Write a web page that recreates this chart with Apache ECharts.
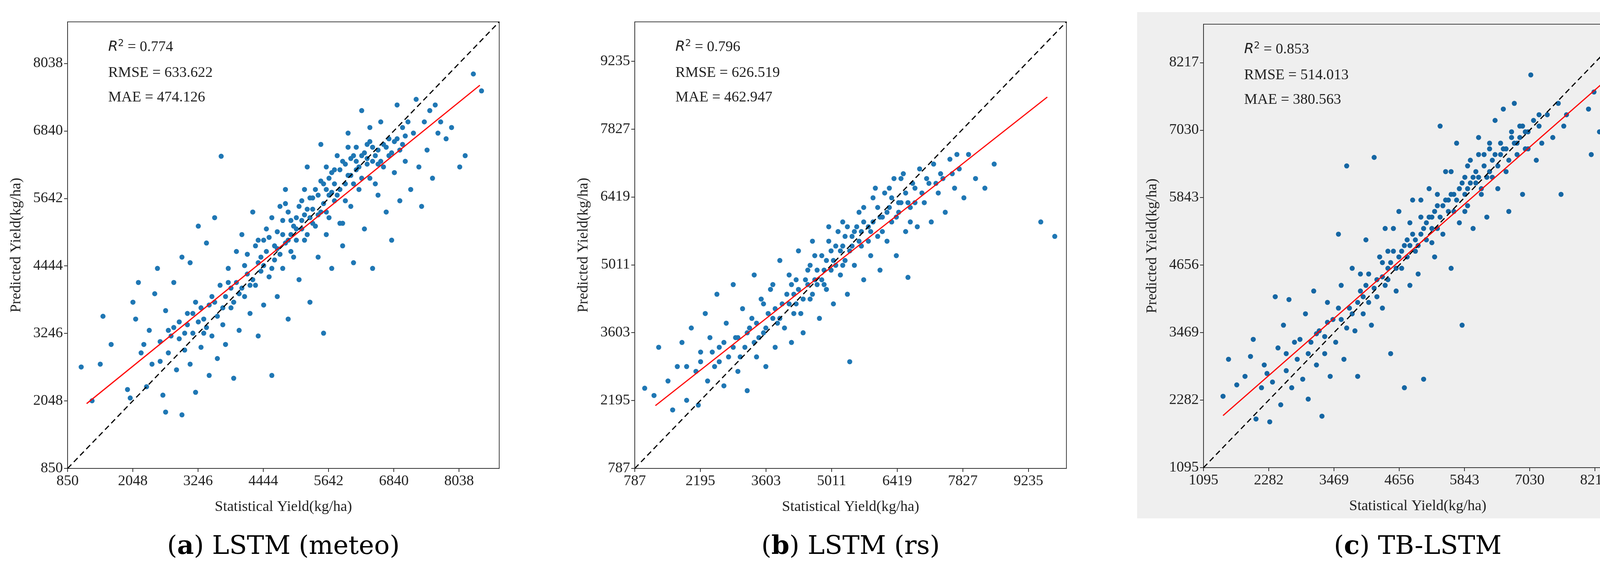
<!DOCTYPE html>
<html><head><meta charset="utf-8">
<script src="https://cdn.jsdelivr.net/npm/echarts@6/dist/echarts.min.js"></script>
<style>html,body{margin:0;padding:0;background:#fff;overflow:hidden}#c{width:4231px;height:1450px}</style>
</head><body><div id="c"></div>
<script>
// Axis settings (min, interval, max)
const axisA = {min: 850, interval: 1198, max: 8775};
const axisB = {min: 787, interval: 1408, max: 10050};
const axisC = {min: 1095, interval: 1187, max: 8892};
const captions = ['LSTM (meteo)', 'LSTM (rs)', 'TB-LSTM'];
const letters = ['a', 'b', 'c'];
const stats = [['0.774','633.622','474.126'],['0.796','626.519','462.947'],['0.853','514.013','380.563']];
// Regression lines (start, end)
const fitA = [[1200, 2000], [8420, 7650]];
const fitB = [[1230, 2090], [9640, 8490]];
const fitC = [[1450, 2010], [8540, 8010]];
// Scatter points (statistical, predicted)
const pointsA = [
[1100,2650],[1300,2050],[1450,2700],[1500,3550],[1650,3050],[1950,2250],[2000,2100],[2100,3500],[2050,3800],[2150,4150],[2200,2900],[2300,2300],[2350,3300],[2400,2700],[2450,3950],[2500,4400],[2550,3100],[2600,2150],[2650,1850],[2650,3650],[2700,2900],[2750,3200],[2800,4150],[2850,2600],[2900,3450],[2950,1800],[2950,4600],[3000,2950],[3050,3600],[3100,4500],[3100,2700],[3150,3250],[3200,3800],[3200,2200],[3250,5150],[3300,3000],[3350,3500],[3400,4850],[3450,2500],[3500,3900],[3500,3200],[3550,5300],[3600,2800],[3650,4100],[3670,6390],[3700,3400],[3750,3050],[3800,4400],[3850,3700],[3900,2450],[3950,4700],[4000,3300],[4050,5000],[4100,3900],[4150,4300],[4200,3600],[4250,5400],[4300,4100],[4350,3200],[4400,4600],[4450,3750],[4500,5100],[4550,4250],[4600,2500],[4650,4800],[4700,3900],[4750,5500],[4800,4400],[4850,5800],[4900,3500],[4950,5000],[5000,4600],[5050,5300],[5100,4200],[5150,5600],[5200,4900],[5250,6200],[5300,3800],[5350,5200],[5400,5800],[5450,4600],[5500,6600],[5500,5400],[5550,3250],[5600,5000],[5650,6000],[5700,4400],[5750,5600],[5800,6400],[5850,5200],[5900,4800],[5950,5900],[6000,6800],[6050,5500],[6100,4500],[6150,6300],[6200,5800],[6250,7200],[6300,5100],[6350,6600],[6400,6000],[6450,4400],[6500,6400],[6550,5700],[6600,7000],[6650,6200],[6700,5400],[6750,6700],[6800,4900],[6850,6100],[6900,7300],[6950,5600],[7000,6600],[7050,6300],[7100,7000],[7150,5800],[7200,6800],[7250,7400],[7300,6200],[7350,5500],[7400,7000],[7450,6500],[7500,7200],[7550,6000],[7600,7300],[7650,6800],[7700,7000],[7800,6700],[7900,6900],[8050,6200],[8150,6400],[8300,7850],[8450,7550],
[2250,3050],[2550,2750],[2800,3350],[3000,3250],[3150,3600],[3350,3250],[3450,3750],[3600,3550],[3750,3900],[3900,3800],[3950,4150],[4050,4050],[4150,4650],[4250,4200],[4300,4800],[4400,4350],[4500,4700],[4550,4950],[4600,4400],[4700,5050],[4750,4650],[4800,5250],[4850,4850],[4900,5400],[4950,4700],[5000,5150],[5050,4900],[5100,5500],[5150,5100],[5200,5350],[5250,5000],[5300,5650],[5350,5450],[5400,5150],[5450,5700],[5500,5950],[5550,5550],[5600,5800],[5650,5300],[5700,6100],[5750,5900],[5800,5700],[5850,6150],[5900,6300],[5950,5600],[6000,6050],[6050,6350],[6100,5900],[6150,6550],[6200,6200],[6250,6000],[6300,6450],[6350,6250],[6400,6650],[6450,6300],[6500,5900],[6550,6500],[6600,6300],[6700,6550],[6800,6450],[6900,6700],[7000,6900],[5200,5800],[5600,6200],[5900,5200],[4600,5300],[4350,4900],[4850,5550],
[2900,3150],[3050,3400],[3250,3450],[3400,3350],[3550,3800],[3700,3700],[3850,4050],[4000,3950],[4100,4450],[4200,4100],[4350,4500],[4450,4450],[4650,4550],[4700,4750],[4800,5000],[4900,4900],[5050,5100],[5150,5250],[5250,5450],[5350,5650],[5450,5350],[5550,5900],[5650,5700],[5750,6150],[5850,5800],[5950,6250],[6050,6050],[6150,6150],[6250,6400],[6350,6350],[6450,6550],[6550,6250],[6650,6600],[6750,6400],[6850,6650],[6950,6500],[7050,6750],[5300,5300],[5700,5750],[6100,6400],[4950,5250],[4450,4900],[3800,4150],[3300,3700],[2700,3300],[6400,6900],[6000,6550],[5600,5400]
];
const pointsB = [
[1000,2450],[1200,2300],[1300,3300],[1500,2600],[1600,2000],[1700,2900],[1800,3400],[1900,2200],[2000,3700],[2100,2800],[2150,2100],[2200,3200],[2300,4000],[2350,2600],[2400,3500],[2500,2900],[2550,4400],[2600,3300],[2700,2500],[2750,3800],[2800,3100],[2900,4600],[2950,3500],[3000,2800],[3100,4100],[3150,3300],[3200,2400],[3300,3900],[3350,4800],[3400,3100],[3500,4300],[3550,3600],[3600,2900],[3700,4500],[3750,3900],[3800,3300],[3900,5100],[3950,4200],[4000,3700],[4100,4800],[4150,3400],[4200,4400],[4300,5300],[4350,4000],[4400,3600],[4500,4900],[4550,4300],[4600,5500],[4700,4600],[4750,3900],[4800,5200],[4900,4500],[4950,5800],[5000,4900],[5050,4200],[5100,5400],[5200,4800],[5250,5900],[5300,5100],[5350,4400],[5400,3000],[5450,5600],[5500,5000],[5600,6100],[5650,5400],[5700,4700],[5800,5800],[5850,5200],[5900,6400],[6000,5600],[6050,4900],[6100,6000],[6200,5500],[6250,6600],[6300,5900],[6400,5200],[6450,6300],[6500,6800],[6600,5700],[6650,4750],[6700,6200],[6800,6600],[6850,5800],[6900,7000],[7000,6300],[7100,6700],[7150,5900],[7200,7100],[7300,6500],[7400,6800],[7450,6100],[7550,7200],[7650,6600],[7750,7000],[7850,6400],[7950,7300],[8100,6800],[8300,6600],[8500,7100],[9500,5900],[9800,5600],
[2600,3000],[2900,3300],[3200,3600],[3400,3800],[3600,3700],[3800,4100],[3900,3900],[4100,4200],[4200,4000],[4300,4500],[4400,4300],[4500,4600],[4600,4400],[4700,4900],[4800,4700],[4900,5100],[5000,5300],[5100,5000],[5200,5300],[5300,5600],[5400,5300],[5500,5700],[5600,5500],[5700,5900],[5800,5500],[5900,5900],[6000,6200],[6100,5700],[6200,6100],[6300,6400],[6400,6000],[6500,6300],[6600,6500],[6700,5900],[6800,6300],[5550,5800],[5150,5700],[4650,5200],[4250,4700],[3750,4600],[5950,6600],[6350,6800],
[1900,2900],[2200,3000],[2450,3200],[2700,3400],[3000,3500],[3050,3100],[3250,3700],[3450,3500],[3650,4000],[3850,3800],[4050,4400],[4250,4200],[4450,4700],[4650,4700],[4850,4900],[5050,5100],[5250,5400],[5450,5400],[5650,5700],[5850,5700],[6050,6000],[6250,6200],[6450,6100],[6650,6300],[6750,6700],[6950,6500],[7050,6800],[7250,6700],[7350,6900],[7600,6900],[7700,7300],[5700,6200],[5350,5800],[4950,5500],[4550,5000],[4150,4600],[3550,4200],[3350,3400],[6150,6500],[6550,6900],[5250,5000],[4850,4600]
];
const pointsC = [
[1450,2350],[1550,3000],[1700,2550],[1850,2700],[1950,3050],[2000,3350],[2050,1950],[2150,2500],[2200,2900],[2300,1900],[2350,2600],[2400,4100],[2450,3200],[2500,2200],[2550,3600],[2600,2800],[2650,4050],[2700,2500],[2750,3300],[2800,3000],[2900,2650],[2950,3800],[3000,2300],[3050,3300],[3100,4200],[3150,2900],[3200,3500],[3250,2000],[3300,3100],[3350,4000],[3400,2700],[3450,3700],[3500,3300],[3550,5200],[3600,4300],[3650,3000],[3700,6400],[3750,3900],[3800,4600],[3850,3500],[3900,2700],[3950,4200],[4000,3800],[4050,5100],[4100,4500],[4150,3600],[4200,6550],[4250,4100],[4300,4800],[4350,3900],[4400,5300],[4450,4400],[4500,3100],[4550,4900],[4600,4200],[4650,5600],[4700,4600],[4750,2500],[4800,5100],[4850,4300],[4900,5800],[4950,4900],[5000,4500],[5050,5500],[5100,2650],[5150,5100],[5200,6000],[5250,5300],[5300,4800],[5350,5700],[5400,7100],[5450,5200],[5500,6300],[5550,5600],[5600,4600],[5650,5900],[5700,6800],[5750,5400],[5800,3600],[5850,6200],[5900,5700],[5950,6500],[6000,5300],[6050,6100],[6100,6900],[6150,5900],[6200,6400],[6250,5500],[6300,6700],[6350,6200],[6400,7200],[6450,6000],[6500,6600],[6550,7400],[6600,6300],[6650,5600],[6700,6900],[6750,7500],[6800,6600],[6850,7100],[6900,5900],[6950,7000],[7000,6700],[7050,8000],[7100,7200],[7150,6500],[7200,7100],[7250,6800],[7350,7300],[7450,6900],[7550,7500],[7600,5900],[7650,7100],[7700,7300],[8100,7400],[8150,6600],[8300,7000],[8200,7700],[8350,8300],[8450,8100],[8550,7800],[8400,7600],
[3000,3100],[3300,3400],[3600,3700],[3800,3800],[4000,4100],[4100,4000],[4250,4400],[4400,4300],[4500,4700],[4600,4600],[4700,4900],[4800,4800],[4900,5200],[5000,5000],[5100,5300],[5150,5400],[5250,5500],[5350,5300],[5450,5700],[5550,5800],[5650,5600],[5750,6000],[5850,5900],[5950,6100],[6050,6300],[6150,6000],[6250,6200],[6350,6500],[6450,6400],[6550,6700],[6650,6500],[6750,6800],[6850,6900],[6950,6700],[4550,5300],[5050,5800],[5600,6300],[6100,6600],[4350,4700],[3950,4500],
[2250,2750],[2600,3100],[2850,3350],[3150,3450],[3350,3650],[3550,3900],[3700,3550],[3900,4000],[4050,4300],[4200,4250],[4350,4450],[4450,4600],[4650,4800],[4750,5000],[4850,5000],[4950,5100],[5050,5200],[5200,5500],[5300,5600],[5400,5500],[5500,5800],[5600,5900],[5700,5800],[5800,6100],[5900,6000],[6000,6200],[6100,6200],[6200,6600],[6300,6300],[6400,6600],[6500,6800],[6600,6700],[6700,7000],[6800,6800],[6900,7100],[7000,7000],[7200,7300],[5350,5900],[4850,5400],[4450,4900],[5900,6400],[6300,6800],[5250,5050],[5850,5600]
];

const chart = echarts.init(document.getElementById('c'));
const panels = [
 {ax: axisA, pts: pointsA, fit: fitA, left: 173, top: 56, w: 1105, h: 1144, color: '#1f77b4'},
 {ax: axisB, pts: pointsB, fit: fitB, left: 1625, top: 56, w: 1105, h: 1144, color: '#1f77b4'},
 {ax: axisC, pts: pointsC, fit: fitC, left: 3081, top: 62, w: 1097, h: 1136, color: '#1566a3'}
];
const font = '"Liberation Serif", "Times New Roman", serif';
const grid = [], xAxis = [], yAxis = [], series = [];
const graphic = [{type:'rect', z:-10, shape:{x:2911,y:31,width:1299,height:1297}, style:{fill:'#efefef'}}];
panels.forEach((p, i) => {
  grid.push({left: p.left, top: p.top, width: p.w, height: p.h, show: true, borderColor: '#444', borderWidth: 2, backgroundColor: 'transparent'});
  const lab = {fontFamily: font, fontSize: 38, color: '#222', showMaxLabel: false, formatter: v => String(v)};
  const common = {min: p.ax.min, max: p.ax.max, interval: p.ax.interval, gridIndex: i,
    axisLine: {show: true, onZero: false, lineStyle: {color: '#333', width: 2}},
    axisTick: {show: true, inside: false, length: 9, lineStyle: {color: '#333', width: 2}},
    splitLine: {show: false},
    nameLocation: 'middle', nameTextStyle: {fontFamily: font, fontSize: 38, color: '#222'}};
  xAxis.push(Object.assign({}, common, {type: 'value', name: 'Statistical Yield(kg/ha)', nameGap: 80, axisLabel: Object.assign({}, lab, {margin: 14})}));
  yAxis.push(Object.assign({}, common, {type: 'value', name: 'Predicted Yield(kg/ha)', nameGap: 112, axisLabel: Object.assign({}, lab, {margin: 12})}));
  series.push({type: 'scatter', xAxisIndex: i, yAxisIndex: i, data: p.pts, symbolSize: 13, itemStyle: {color: p.color, opacity: 1}, z: 2});
  series.push({type: 'line', xAxisIndex: i, yAxisIndex: i, data: [[p.ax.min, p.ax.min], [p.ax.max, p.ax.max]], symbol: 'none', lineStyle: {color: '#000', width: 3, type: [14, 9]}, z: 3});
  series.push({type: 'line', xAxisIndex: i, yAxisIndex: i, data: p.fit, symbol: 'none', lineStyle: {color: '#ff0000', width: 3}, z: 4});
  const tx = p.left + 104, ty = p.top + 72;
  graphic.push({type: 'text', left: tx, top: ty - 28, style: {rich: {r: {fontFamily: 'DejaVu Sans', fontStyle: 'italic', fontSize: 36, fill: '#222'}, s: {fontFamily: 'DejaVu Sans', fontSize: 24, fill: '#222', verticalAlign: 'top', padding:[0,0,18,0]}, t: {fontFamily: font, fontSize: 38, fill: '#222'}}, text: '{r|R}{s|2}{t| = ' + stats[i][0] + '}'}});
  graphic.push({type: 'text', left: tx, top: ty + 40, style: {text: 'RMSE = ' + stats[i][1], fontFamily: font, fontSize: 38, fill: '#222'}});
  graphic.push({type: 'text', left: tx, top: ty + 103, style: {text: 'MAE = ' + stats[i][2], fontFamily: font, fontSize: 38, fill: '#222'}});
  graphic.push({type: 'text', x: p.left + p.w / 2, y: 1402, style: {rich: {b: {fontFamily: 'DejaVu Serif', fontWeight: 'bold', fontSize: 66, fill: '#000'}, n: {fontFamily: 'DejaVu Serif', fontSize: 66, fill: '#000'}}, text: '{n|(}{b|' + letters[i] + '}{n|) ' + captions[i] + '}', align: 'center', verticalAlign: 'middle'}});
});
chart.setOption({animation: false, backgroundColor: '#fff', grid, xAxis, yAxis, series, graphic});
</script></body></html>
